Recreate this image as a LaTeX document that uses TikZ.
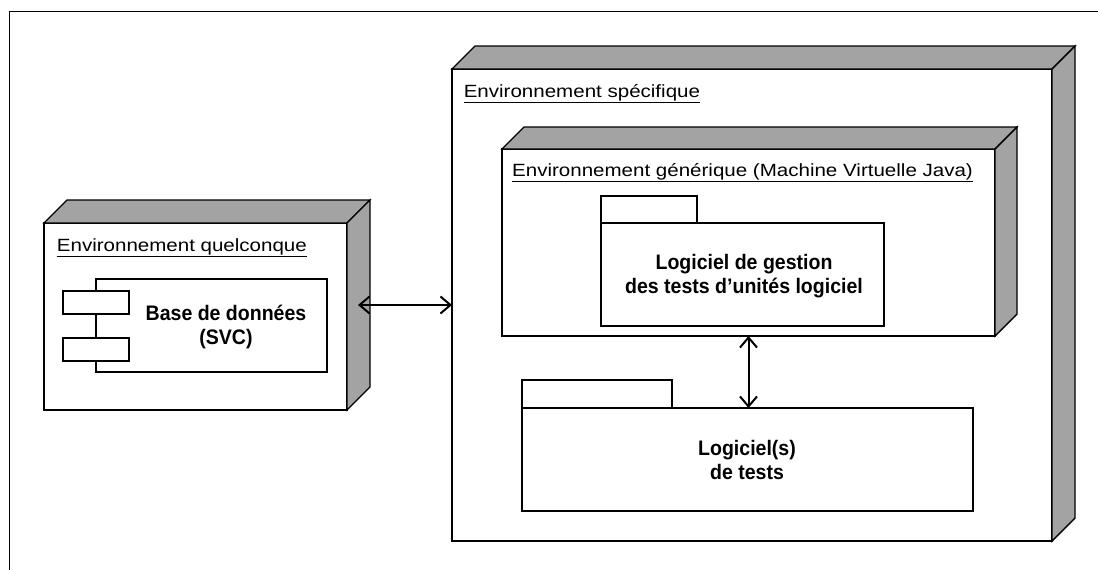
\documentclass[tikz,border=0pt]{standalone}
\usepackage{fontspec}
\setmainfont{Liberation Sans}
\newfontfamily\labfont{Liberation Sans}[FakeStretch=1.16]
\newfontfamily\boxfont{Liberation Sans}[FakeStretch=0.93]
\usetikzlibrary{calc,arrows.meta}

\tikzset{
  devfront/.style={draw, fill=white, line width=1.4pt, inner sep=0pt, outer sep=0pt, anchor=north west},
  face/.style={fill=black!36, draw=black, line width=1.4pt, line join=miter},
  pkgbox/.style={draw, fill=white, line width=2pt, inner sep=0pt, outer sep=0pt, anchor=north west},
  compbox/.style={draw, fill=white, line width=1.3pt, inner sep=0pt, outer sep=0pt, anchor=north west},
  envlabel/.style={anchor=base west, inner sep=0pt, font=\labfont\fontsize{17.7}{21}\selectfont},
  boxtext/.style={align=center, inner sep=0pt, font=\boxfont\bfseries\fontsize{21}{24.7}\selectfont},
  link/.style={line width=2pt, {Straight Barb[length=10pt,width=17pt,line width=2pt]}-{Straight Barb[length=10pt,width=17pt,line width=2pt]}}
}

% top and right faces of a 3D device box, drawn from its front node
\newcommand\devfaces[2]{%
  \filldraw[face] (#1.north west) -- ++(#2,-#2) -- ($(#1.north east)+(#2,-#2)$) -- (#1.north east) -- cycle;
  \filldraw[face] (#1.north east) -- ($(#1.north east)+(#2,-#2)$) -- ($(#1.south east)+(#2,-#2)$) -- (#1.south east) -- cycle;
}

\begin{document}
\begin{tikzpicture}[x=1pt,y=-1pt]
\useasboundingbox (0,0) rectangle (1098,570);

% surrounding frame
\draw[line width=1.3pt] (9.5,570) -- (9.5,11.5) -- (1098,11.5);

% specific environment
\node[devfront, minimum width=600pt, minimum height=472pt] (spec) at (452,69) {};
\devfaces{spec}{23}
\node[envlabel] (specl) at (463.6,97) {\underline{Environnement spécifique}};

% generic environment (JVM)
\node[devfront, minimum width=493pt, minimum height=187pt] (gen) at (502,149) {};
\devfaces{gen}{22}
\node[envlabel] (genl) at (512,176) {\underline{Environnement générique (Machine Virtuelle Java)}};

% unit-test management package
\node[pkgbox, minimum width=96pt, minimum height=27pt] (pkgatab) at (601,196) {};
\node[pkgbox, minimum width=283pt, minimum height=103pt] (pkga) at (601,223) {};
\node[boxtext] (pkgat) at (744,276) {Logiciel de gestion\\des tests d’unités logiciel};

% test software package
\node[pkgbox, minimum width=150pt, minimum height=28pt] (pkgbtab) at (522,380) {};
\node[pkgbox, minimum width=451pt, minimum height=103pt] (pkgb) at (522,408) {};
\node[boxtext] (pkgbt) at (747,460) {Logiciel(s)\\de tests};

% arbitrary environment with the database
\node[devfront, minimum width=303pt, minimum height=187pt] (quel) at (44,223) {};
\devfaces{quel}{23}
\node[envlabel] (quell) at (56.7,251) {\underline{Environnement quelconque}};

\node[compbox, minimum width=231pt, minimum height=93pt] (db) at (96,279) {};
\node[compbox, line width=1.5pt, minimum width=66pt, minimum height=23pt] (dbp1) at (63,291) {};
\node[compbox, line width=1.5pt, minimum width=66pt, minimum height=23pt] (dbp2) at (63,338) {};
\node[boxtext] (dbt) at (226,327) {Base de données\\(SVC)};

% connectors
\coordinate (qa) at (358,305);
\draw[link] (qa) -- (qa -| spec.west);
\draw[link] (gen.south) -- (gen.south |- pkgb.north);
\end{tikzpicture}
\end{document}
